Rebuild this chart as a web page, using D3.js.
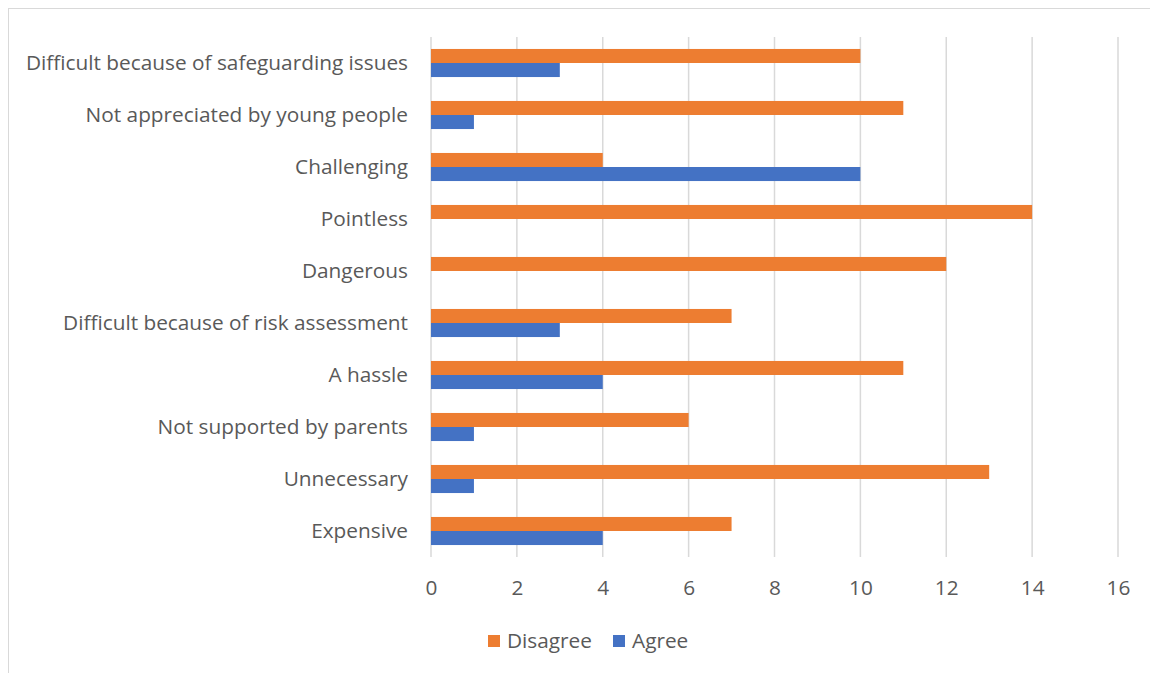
<!DOCTYPE html>
<html><head><meta charset="utf-8">
<script src="https://cdn.jsdelivr.net/npm/d3@7"></script>
<style>body{margin:0;background:#fff;} text{font-family:"Open Sans",sans-serif;fill:#595959;}</style>
</head><body>
<svg id="c" width="1150" height="673"></svg>
<script>
const categories = ["Difficult because of safeguarding issues","Not appreciated by young people","Challenging","Pointless","Dangerous","Difficult because of risk assessment","A hassle","Not supported by parents","Unnecessary","Expensive"];
const disagree = [10,11,4,14,12,7,11,6,13,7];
const agree = [3,1,10,0,0,3,4,1,1,4];
const seriesNames = ["Disagree","Agree"];
const colors = ["#ED7D31","#4472C4"];
const xTicks = [0,2,4,6,8,10,12,14,16];

(function(){
const svg = d3.select("#c");
const fs = 20.8;
svg.append("rect").attr("x",8.5).attr("y",8.5).attr("width",1160).attr("height",680).attr("fill","none").attr("stroke","#d9d9d9");

const pL=431, pR=1118, pT=37, pB=557;
const x = d3.scaleLinear().domain([0,16]).range([pL,pR]);
const y = d3.scaleBand().domain(categories).range([pT,pB]).paddingInner(0.46).paddingOuter(0.23);
const ySub = d3.scaleBand().domain(seriesNames).range([0,y.bandwidth()]);

svg.append("g").selectAll("line").data(xTicks).join("line")
  .attr("x1",d=>x(d)).attr("x2",d=>x(d)).attr("y1",pT).attr("y2",pB)
  .attr("stroke","#d9d9d9").attr("stroke-width",1.5);

const data = categories.map((c,i)=>({c, vals:[disagree[i],agree[i]]}));
const g = svg.append("g");
data.forEach(d=>{
  d.vals.forEach((v,j)=>{
    g.append("rect").attr("x",x(0)).attr("y",y(d.c)+ySub(seriesNames[j]))
     .attr("width",x(v)-x(0)).attr("height",ySub.bandwidth()).attr("fill",colors[j]);
  });
});

const xAxis = d3.axisBottom(x).tickValues(xTicks).tickSize(0).tickPadding(0);
const ax = svg.append("g").attr("transform",`translate(0,${pB+31})`).call(xAxis);
ax.select(".domain").remove();
ax.selectAll("text").attr("font-size",fs).attr("dy","0.35em").attr("y",0).style("font-family","Open Sans").attr("fill","#595959");

const yAxis = d3.axisLeft(y).tickSize(0).tickPadding(0);
const ay = svg.append("g").attr("transform",`translate(408,0)`).call(yAxis);
ay.select(".domain").remove();
ay.selectAll("text").attr("font-size",fs).attr("dy","0.35em").style("font-family","Open Sans").attr("fill","#595959");

const leg = svg.append("g");
const legX=[488,613];
seriesNames.forEach((s,j)=>{
  leg.append("rect").attr("x",legX[j]).attr("y",635).attr("width",12).attr("height",12).attr("fill",colors[j]);
  leg.append("text").attr("x",legX[j]+19).attr("y",641).attr("dy","0.35em").attr("font-size",fs).text(s);
});
})();
</script>
</body></html>
